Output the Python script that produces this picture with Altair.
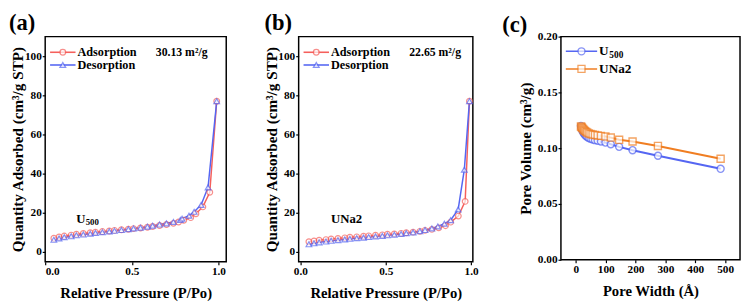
import altair as alt
import pandas as pd

# ---------------- data ----------------
# (a) U500 isotherm
P_a_ads = [0.05, 0.08, 0.11, 0.15, 0.18, 0.22, 0.26, 0.29, 0.33, 0.37, 0.40, 0.44, 0.48, 0.51,
           0.55, 0.59, 0.62, 0.66, 0.70, 0.74, 0.77, 0.80, 0.84, 0.87, 0.91, 0.95, 0.99]
V_a_ads = [7.0, 7.6, 8.1, 8.6, 9.0, 9.4, 9.8, 10.1, 10.4, 10.7, 11.0, 11.3, 11.6, 11.9,
           12.2, 12.6, 13.0, 13.5, 14.0, 14.6, 15.3, 16.2, 17.5, 19.5, 23.0, 30.5, 77.0]
P_a_des = [0.05, 0.08, 0.11, 0.15, 0.18, 0.22, 0.26, 0.29, 0.33, 0.37, 0.40, 0.44, 0.48, 0.51,
           0.55, 0.59, 0.62, 0.66, 0.70, 0.74, 0.78, 0.79, 0.83, 0.86, 0.90, 0.94, 0.99]
V_a_des = [6.2, 6.9, 7.5, 8.0, 8.5, 8.9, 9.3, 9.7, 10.1, 10.5, 10.8, 11.2, 11.6, 12.0,
           12.4, 12.9, 13.4, 14.0, 14.6, 15.3, 16.3, 17.0, 18.5, 20.5, 24.0, 33.0, 77.0]

# (b) UNa2 isotherm
P_b_ads = [0.05, 0.08, 0.11, 0.15, 0.18, 0.22, 0.26, 0.29, 0.33, 0.37, 0.40, 0.44, 0.48, 0.51,
           0.55, 0.59, 0.62, 0.66, 0.70, 0.73, 0.77, 0.81, 0.85, 0.88, 0.925, 0.965, 0.99]
V_b_ads = [5.2, 5.6, 6.0, 6.3, 6.6, 6.9, 7.2, 7.5, 7.7, 8.0, 8.2, 8.5, 8.7, 9.0,
           9.2, 9.5, 9.8, 10.1, 10.5, 11.0, 11.5, 12.3, 13.4, 15.2, 18.3, 25.8, 77.0]
P_b_des = [0.05, 0.08, 0.11, 0.15, 0.18, 0.22, 0.26, 0.29, 0.33, 0.37, 0.40, 0.44, 0.48, 0.51,
           0.55, 0.59, 0.62, 0.66, 0.70, 0.73, 0.77, 0.805, 0.843, 0.88, 0.924, 0.96, 0.99]
V_b_des = [3.9, 4.4, 4.9, 5.3, 5.7, 6.0, 6.4, 6.7, 7.0, 7.3, 7.6, 7.9, 8.2, 8.5,
           8.8, 9.2, 9.6, 10.0, 10.6, 11.2, 12.0, 13.0, 14.4, 16.2, 21.7, 42.0, 77.0]

# (c) pore size distribution
pore_width = [17, 19, 21, 24, 27, 30, 34, 38, 43, 49, 56, 64, 73, 84, 99, 117, 145, 190, 275, 485]
pv_U500 = [0.1200, 0.1180, 0.1160, 0.1145, 0.1132, 0.1120, 0.1110, 0.1100, 0.1092, 0.1085,
           0.1078, 0.1072, 0.1066, 0.1060, 0.1050, 0.1035, 0.1012, 0.0982, 0.0932, 0.0815]
pv_UNa2 = [0.1195, 0.1190, 0.1182, 0.1172, 0.1163, 0.1155, 0.1147, 0.1140, 0.1133, 0.1127,
           0.1122, 0.1118, 0.1114, 0.1110, 0.1104, 0.1095, 0.1075, 0.1060, 0.1020, 0.0905]

RED = "#F5605C"
BLUE = "#5566F2"
ORANGE = "#F07E22"
FONT = "Liberation Serif"


def one():
    return alt.Chart(pd.DataFrame({"k": [0]}))


def txt(text, x, y, size=12.5, dx=0, dy=0):
    return one().mark_text(text=text, font=FONT, fontWeight="bold", fontSize=size,
                           align="left", baseline="middle", color="black",
                           dx=dx, dy=dy).encode(x=alt.value(x), y=alt.value(y))


def legend_item(x0, x1, y, color, shape, size):
    line = one().mark_rule(color=color, strokeWidth=1.6).encode(
        x=alt.value(x0), x2=alt.value(x1), y=alt.value(y))
    pt = one().mark_point(shape=shape, filled=True, fill="white", stroke=color,
                          strokeWidth=1.3, size=size).encode(
        x=alt.value((x0 + x1) / 2), y=alt.value(y))
    return [line, pt]


def data_text(text, xv, yv, size=13, dx=0, dy=0):
    return alt.Chart(pd.DataFrame({"x": [xv], "y": [yv]})).mark_text(
        text=text, font=FONT, fontWeight="bold", fontSize=size, align="left",
        baseline="middle", color="black", dx=dx, dy=dy).encode(x="x:Q", y="y:Q")


def iso_panel(P_ads, V_ads, P_des, V_des, xdom, width, letter, letter_x, area_txt, sample_layers):
    df = pd.concat([
        pd.DataFrame({"P": P_ads, "V": V_ads, "series": "Adsorption"}),
        pd.DataFrame({"P": P_des, "V": V_des, "series": "Desorption"}),
    ], ignore_index=True)
    x = alt.X("P:Q", scale=alt.Scale(domain=xdom, nice=False, zero=False),
              axis=alt.Axis(values=[0, 0.5, 1.0], format=".1f",
                            title="Relative Pressure (P/Po)"))
    y = alt.Y("V:Q", scale=alt.Scale(domain=[-5, 110], nice=False, zero=False),
              axis=alt.Axis(values=[0, 20, 40, 60, 80, 100], minExtent=19, maxExtent=19,
                            title="Quantity Adsorbed (cm³/g STP)"))
    cscale = alt.Scale(domain=["Adsorption", "Desorption"], range=[RED, BLUE])
    base = alt.Chart(df)
    lines = base.mark_line(strokeWidth=1.5).encode(
        x=x, y=y, color=alt.Color("series:N", scale=cscale, legend=None),
        order=alt.Order("P:Q"))
    pts = base.mark_point(filled=True, fill="white", strokeWidth=1.2, size=34).encode(
        x=x, y=y,
        stroke=alt.Stroke("series:N", scale=cscale, legend=None),
        shape=alt.Shape("series:N", scale=alt.Scale(domain=["Adsorption", "Desorption"],
                                                    range=["circle", "triangle-up"]),
                        legend=None))
    leg = (legend_item(5, 31, 16, RED, "circle", 34) + [txt("Adsorption", 33, 16)] +
           legend_item(5, 31, 29, BLUE, "triangle-up", 34) + [txt("Desorption", 33, 29)] +
           [txt(area_txt, 113, 16, size=12)])
    lab = txt(letter, letter_x, -14, size=23)
    return alt.layer(lines, pts, *leg, *sample_layers, lab).properties(width=width, height=230)


sample_a = [data_text("U", 0.18, 17), data_text("500", 0.18, 17, size=9, dx=9.5, dy=3)]
sample_b = [data_text("UNa2", 0.18, 17)]

pa = iso_panel(P_a_ads, V_a_ads, P_a_des, V_a_des, [0, 1.045], 185, "(a)", -37,
               "30.13 m²/g", sample_a)
pb = iso_panel(P_b_ads, V_b_ads, P_b_des, V_b_des, [-0.01, 1.01], 178, "(b)", -35,
               "22.65 m²/g", sample_b)

# panel (c)
dfc = pd.concat([
    pd.DataFrame({"W": pore_width, "PV": pv_U500, "s": "U500"}),
    pd.DataFrame({"W": pore_width, "PV": pv_UNa2, "s": "UNa2"}),
], ignore_index=True)
xc = alt.X("W:Q", scale=alt.Scale(domain=[-50, 550], nice=False, zero=False),
           axis=alt.Axis(values=[0, 100, 200, 300, 400, 500], title="Pore Width (Å)"))
yc = alt.Y("PV:Q", scale=alt.Scale(domain=[0, 0.2], nice=False, zero=False),
           axis=alt.Axis(values=[0, 0.05, 0.10, 0.15, 0.20], format=".2f",
                         minExtent=27, maxExtent=27, title="Pore Volume (cm³/g)"))
cs = alt.Scale(domain=["U500", "UNa2"], range=[BLUE, ORANGE])
bc = alt.Chart(dfc)
lc = bc.mark_line(strokeWidth=2).encode(x=xc, y=yc, color=alt.Color("s:N", scale=cs, legend=None),
                                         order=alt.Order("W:Q"))
pc_pts = bc.mark_point(filled=True, fill="white", strokeWidth=1.4, size=52).encode(
    x=xc, y=yc, stroke=alt.Stroke("s:N", scale=cs, legend=None),
    shape=alt.Shape("s:N", scale=alt.Scale(domain=["U500", "UNa2"], range=["circle", "square"]),
                    legend=None))
leg_c = (legend_item(5, 37, 15, BLUE, "circle", 52) +
         [txt("U", 39, 15, size=13.5), txt("500", 49.5, 19, size=9.5)] +
         legend_item(5, 37, 33, ORANGE, "square", 52) + [txt("UNa2", 39, 33, size=13.5)])
lab_c = txt("(c)", -60, -12, size=23)
pc = alt.layer(lc, pc_pts, *leg_c, lab_c).properties(width=183, height=228)

inner = alt.hconcat(pa, pb, spacing=37).resolve_scale(color="independent", stroke="independent",
                                                      shape="independent")
chart = alt.hconcat(inner, pc, spacing=22).resolve_scale(
    color="independent", stroke="independent", shape="independent"
).properties(padding=0).configure_view(stroke="black", strokeWidth=1.5).configure_axis(
    labelFont=FONT, labelFontWeight="bold", labelFontSize=11.5, labelColor="black",
    titleFont=FONT, titleFontWeight="bold", titleFontSize=15.5, titleColor="black",
    domain=False, tickColor="black", tickSize=3, tickWidth=1.2, grid=False,
    labelPadding=1, titlePadding=1
).configure_axisX(titlePadding=9, titleFontSize=15)

chart.save("out.html", embed_options={"renderer": "svg", "actions": False})
